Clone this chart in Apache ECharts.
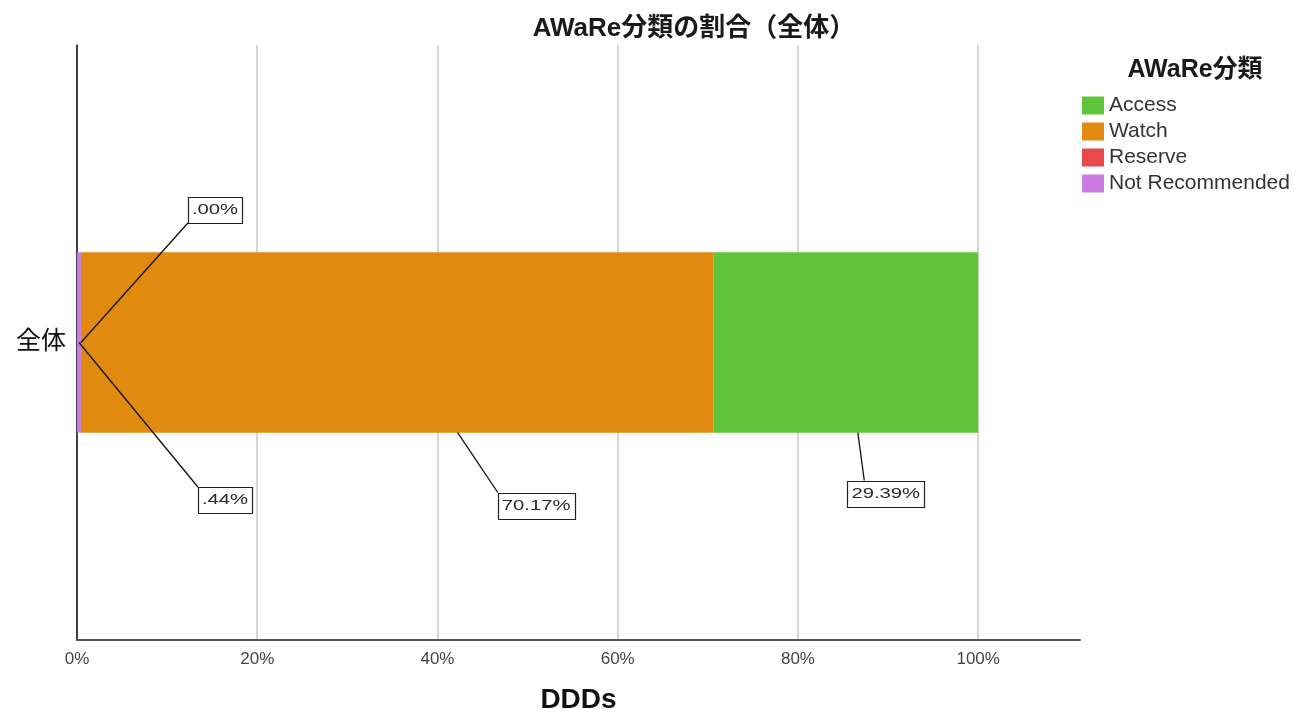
<!DOCTYPE html>
<html>
<head>
<meta charset="utf-8">
<script src="https://cdn.jsdelivr.net/npm/echarts@6/dist/echarts.min.js"></script>
<style>
html,body{margin:0;padding:0;background:#fff;}
#chart{width:1312px;height:709px;}
</style>
</head>
<body>
<div id="chart"></div>
<script>
// ---- data ----
const categories = ['全体'];
// stacking order, left to right
const seriesNames = ['Not Recommended', 'Reserve', 'Watch', 'Access'];
const seriesValues = [0.44, 0.00, 70.17, 29.39];
const legendOrder = ['Access', 'Watch', 'Reserve', 'Not Recommended'];
const xTickInterval = 20;
const xAxisMax = 111.3;

// ---- styles ----
const seriesColors = ['#c97be3', '#e9494b', '#e08a10', '#60c43a'];
const BAR_PCT = 30.3;
// label box offsets from segment centre (pixels) + where leader meets the box
const labelPlacement = [
  {dx: 146, dy: 157.5, fx: 0, fy: 0, edge: false},
  {dx: 134, dy: -132.5, fx: 0, fy: 1, edge: false},
  {dx: 139, dy: 163, fx: 0, fy: 0, edge: true},
  {dx: 40, dy: 151, fx: 0.22, fy: 0, edge: true}
];
const FONT = '"Liberation Sans", "Noto Sans CJK JP", sans-serif';
const LBL_SIZE = 15, LBL_SCALE = 1.35, LBL_PADX = 4, LBL_H = 26;

function fmtPct(v) {
  let s = v.toFixed(2);
  if (s.charAt(0) === '0') s = s.slice(1);
  return s + '%';
}
const measureCtx = document.createElement('canvas').getContext('2d');
measureCtx.font = LBL_SIZE + 'px "Liberation Sans"';

// stacked segment extents built from the values
const segData = [];
let acc = 0;
seriesValues.forEach(function (v, i) {
  segData.push([acc, acc + v, 0, i]);
  acc += v;
});

const chart = echarts.init(document.getElementById('chart'), null, {renderer: 'canvas'});

const barSeries = seriesNames.map(function (name, i) {
  return {
    name: name,
    type: 'bar',
    stack: 'total',
    barWidth: BAR_PCT + '%',
    itemStyle: {color: seriesColors[i]},
    z: 2,
    data: [seriesValues[i]]
  };
});

const labelSeries = {
  name: 'labels',
  type: 'custom',
  coordinateSystem: 'cartesian2d',
  z: 3,
  silent: true,
  clip: false,
  encode: {x: [0, 1], y: 2},
  data: segData,
  renderItem: function (params, api) {
    const idx = api.value(3);
    const s = api.value(0), e = api.value(1);
    const c = api.coord([(s + e) / 2, api.value(2)]);
    const band = api.size([0, 1])[1];
    const barH = band * BAR_PCT / 100;
    const pl = labelPlacement[idx];
    const text = fmtPct(seriesValues[idx]);
    const tw = measureCtx.measureText(text).width;
    const w = tw * LBL_SCALE + 2 * LBL_PADX;
    const h = LBL_H;
    const cx = c[0] + pl.dx, cy = c[1] + pl.dy;
    const ax = cx - w / 2 + pl.fx * w, ay = cy - h / 2 + pl.fy * h;
    let sx = c[0], sy = c[1];
    if (pl.edge) {
      const t = (barH / 2) / (ay - c[1]);
      sx = c[0] + t * (ax - c[0]);
      sy = c[1] + t * (ay - c[1]);
    }
    return {
      type: 'group',
      children: [
        {type: 'line', shape: {x1: sx, y1: sy, x2: ax, y2: ay},
         style: {stroke: '#111', lineWidth: 1.3}},
        {type: 'rect', shape: {x: Math.round(cx - w / 2) + 0.5, y: Math.round(cy - h / 2) + 0.5, width: Math.round(w), height: h},
         style: {fill: '#fff', stroke: '#222', lineWidth: 1.2}},
        {type: 'text', x: cx, y: cy, scaleX: LBL_SCALE,
         style: {text: text, x: 0, y: 0, fill: '#2a2a2a',
                 font: LBL_SIZE + 'px "Liberation Sans"',
                 textAlign: 'center', textVerticalAlign: 'middle',
                 align: 'center', verticalAlign: 'middle'}}
      ]
    };
  }
};

const option = {
  animation: false,
  backgroundColor: '#fff',
  title: [
    {text: 'AWaRe分類の割合（全体）', left: 694, top: 16, textAlign: 'center', padding: 0,
     textStyle: {fontSize: 26, fontWeight: 'bold', color: '#1a1a1a', fontFamily: FONT}},
    {text: 'AWaRe分類', left: 1195, top: 58, textAlign: 'center', padding: 0,
     textStyle: {fontSize: 25, fontWeight: 'bold', color: '#1a1a1a', fontFamily: FONT}}
  ],
  legend: {
    data: legendOrder,
    orient: 'vertical',
    left: 1082,
    top: 95,
    padding: 0,
    itemWidth: 22,
    itemHeight: 18,
    itemGap: 5,
    icon: 'rect',
    selectedMode: false,
    textStyle: {fontSize: 21, color: '#333', fontFamily: FONT, lineHeight: 18, padding: [0, 0, 0, 0]}
  },
  grid: {left: 77, right: 232, top: 45, bottom: 69, outerBoundsMode: 'none', containLabel: false},
  xAxis: {
    type: 'value',
    min: 0,
    max: xAxisMax,
    interval: xTickInterval,
    name: 'DDDs',
    nameLocation: 'middle',
    nameGap: 46,
    nameTextStyle: {fontSize: 28, fontWeight: 'bold', color: '#111', fontFamily: FONT},
    axisLine: {show: true, lineStyle: {color: '#555', width: 2}},
    axisTick: {show: false},
    axisLabel: {
      formatter: function (v) { return v + '%'; },
      showMaxLabel: false,
      fontSize: 17, color: '#444', margin: 11, fontFamily: FONT
    },
    splitLine: {show: true, showMaxLine: false, lineStyle: {color: '#c8c8c8', width: 1.5}}
  },
  yAxis: {
    type: 'category',
    data: categories,
    axisLine: {show: true, lineStyle: {color: '#111', width: 1.5}},
    axisTick: {show: false},
    axisLabel: {fontSize: 25, color: '#111', margin: 11, fontFamily: FONT},
    splitLine: {show: false}
  },
  series: barSeries.concat([labelSeries])
};

chart.setOption(option);
</script>
</body>
</html>
